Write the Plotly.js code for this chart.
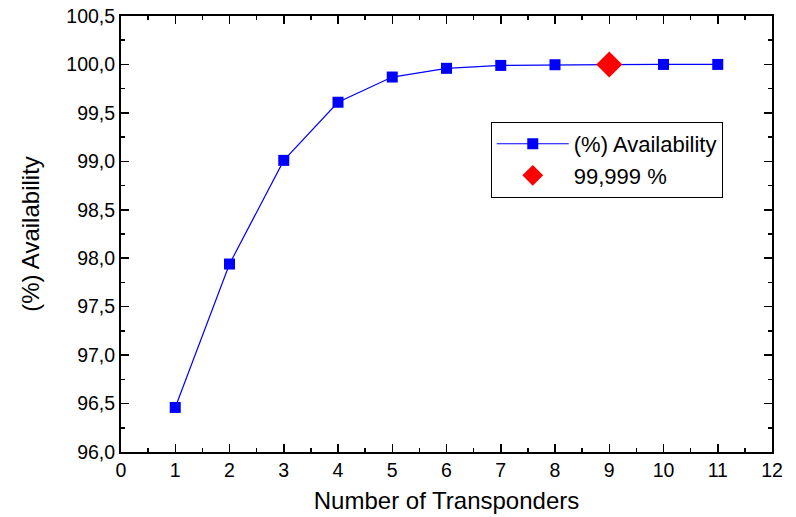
<!DOCTYPE html>
<html>
<head>
<meta charset="utf-8">
<script src="https://cdn.plot.ly/plotly-3.0.1.min.js"></script>
<style>html,body{margin:0;padding:0;background:#fff;}#chart{width:796px;height:517px;}</style>
</head>
<body>
<div id="chart"></div>
<script>
var transponders = [1, 2, 3, 4, 5, 6, 7, 8, 9, 10, 11];
var availability = [96.46, 97.94, 99.01, 99.61, 99.87, 99.96, 99.99, 99.997, 99.999, 100.0, 100.0];
var targetX = [9];
var targetY = [99.999];

var FONT = 'Liberation Sans, Arial, sans-serif';

var traces = [
  {
    x: transponders, y: availability, type: 'scatter', mode: 'lines+markers',
    name: '(%) Availability',
    line: {color: '#0000ff', width: 1.2},
    marker: {symbol: 'square', size: 11, color: '#0000ff'}
  },
  {
    x: targetX, y: targetY, type: 'scatter', mode: 'markers',
    name: '99,999 %',
    marker: {symbol: 'diamond', size: 20, color: '#ff0000'}
  }
];

var axisCommon = {
  showline: true, linecolor: '#000', linewidth: 2, mirror: 'allticks',
  ticks: 'inside', ticklen: 8, tickwidth: 1.5, tickcolor: '#000',
  showgrid: false, zeroline: false,
  tickfont: {family: FONT, size: 19.5, color: '#000'},
  minor: {ticks: 'inside', ticklen: 4, tickwidth: 1.5, tickcolor: '#000'}
};

var layout = {
  width: 796, height: 517,
  margin: {l: 121, r: 24, t: 16, b: 65},
  paper_bgcolor: '#fff', plot_bgcolor: '#fff',
  separators: ',.',
  showlegend: true,
  legend: {
    x: 0.568, y: 0.757, xanchor: 'left', yanchor: 'top',
    bordercolor: '#000', borderwidth: 1, bgcolor: '#fff',
    font: {family: FONT, size: 22, color: '#000'},
    tracegroupgap: 0, itemwidth: 72, entrywidth: 257
  },
  xaxis: Object.assign({}, axisCommon, {
    range: [0, 12], dtick: 1, tick0: 0,
    minor: Object.assign({}, axisCommon.minor, {dtick: 0.5}),
    title: {text: 'Number of Transponders', font: {family: FONT, size: 24, color: '#000'}, standoff: 12}
  }),
  yaxis: Object.assign({}, axisCommon, {
    range: [96.0, 100.5], dtick: 0.5, tick0: 96, tickformat: '.1f',
    minor: Object.assign({}, axisCommon.minor, {dtick: 0.25}),
    title: {text: '(%) Availability', font: {family: FONT, size: 24, color: '#000'}, standoff: 20}
  })
};

Plotly.newPlot('chart', traces, layout, {displayModeBar: false, staticPlot: true});
</script>
</body>
</html>
